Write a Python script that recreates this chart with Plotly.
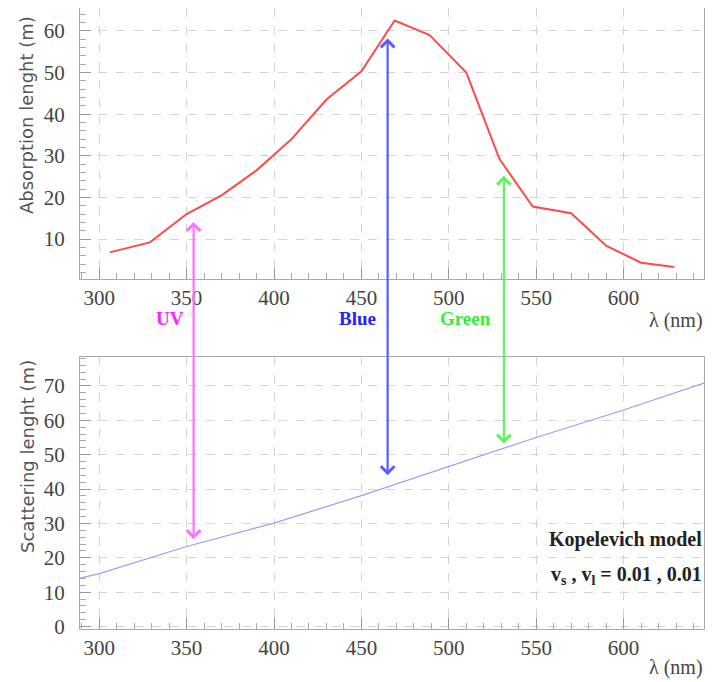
import plotly.graph_objects as go

# The page body adds an 8px margin, so the figure is sized to fill the rest of the window.
OFF = 8
W, H = 720 - OFF, 682 - OFF

# ---- data ----
abs_lambda = [306, 329, 350, 370, 390, 410, 430, 450, 469, 489, 510, 529, 548, 570, 590, 610, 629]
abs_length = [6.8, 9.2, 16.0, 20.5, 26.5, 34.0, 43.5, 50.3, 62.5, 59.0, 50.0, 29.2, 17.8, 16.2, 8.4, 4.3, 3.3]

sca_lambda = [289, 300, 350, 400, 450, 500, 550, 600, 646]
sca_length = [14.1, 15.4, 23.3, 30.1, 38.1, 46.5, 55.0, 63.0, 70.8]

arrow_names = ["UV", "Blue", "Green"]
arrow_lambda = [354, 465, 531.5]
arrow_top_abs = [14.1, 58.2, 25.2]      # arrow tip in absorption panel (m)
arrow_bot_sca = [25.0, 43.6, 52.8]      # arrow tip in scattering panel (m)
arrow_colors = ["#ff70ff", "#5a5aff", "#5cf55c"]
label_colors = ["#ff22ff", "#2222ff", "#33ee33"]
label_lambda = [340.5, 448, 509.5]

x_ticks = [300, 350, 400, 450, 500, 550, 600]
y1_ticks = [10, 20, 30, 40, 50, 60]
y2_ticks = [0, 10, 20, 30, 40, 50, 60, 70]

# ---- layout geometry (screen pixels -> paper) ----
def px(x):
    return (x - OFF) / W


def py(y):
    return 1 - (y - OFF) / H


xrng = [289, 646]
y1rng = [0.4, 65.5]
y2rng = [-0.7, 78.5]
xdom = [px(80), px(704)]
y1dom = [py(279), py(8)]
y2dom = [py(629), py(356.7)]


def to_paper(v, rng, dom):
    return dom[0] + (v - rng[0]) / (rng[1] - rng[0]) * (dom[1] - dom[0])


fig = go.Figure()
fig.add_trace(go.Scatter(x=abs_lambda, y=abs_length, mode="lines",
                         line=dict(color="#ff4a4a", width=2),
                         xaxis="x", yaxis="y", showlegend=False))
fig.add_trace(go.Scatter(x=sca_lambda, y=sca_length, mode="lines",
                         line=dict(color="#9c9cff", width=1.2),
                         xaxis="x2", yaxis="y2", showlegend=False))

tickfont = dict(family="Liberation Serif", size=21, color="#444")
common_x = dict(range=xrng, domain=xdom, tickvals=x_ticks, ticks="inside", ticklen=11,
                tickcolor="#999", showline=True, linecolor="#aaa", linewidth=1, mirror=True,
                showgrid=True, gridcolor="#d4d4d4", griddash="dash", gridwidth=1,
                zeroline=False, tickfont=tickfont, automargin=False,
                minor=dict(dtick=10, ticks="inside", ticklen=6, tickcolor="#aaa", showgrid=False))
common_y = dict(ticks="inside", ticklen=11, tickcolor="#999", showline=True, linecolor="#aaa",
                linewidth=1, mirror=True, showgrid=True, gridcolor="#d4d4d4", griddash="dash",
                gridwidth=1, zeroline=False, tickfont=tickfont, automargin=False,
                ticklabelstandoff=10,
                minor=dict(dtick=2, ticks="inside", ticklen=6, tickcolor="#aaa", showgrid=False))

fig.update_layout(
    width=W, height=H, margin=dict(l=0, r=0, t=0, b=0),
    paper_bgcolor="white", plot_bgcolor="white",
    xaxis=dict(**common_x, anchor="y"),
    yaxis=dict(**common_y, range=y1rng, domain=y1dom, tickvals=y1_ticks, anchor="x"),
    xaxis2=dict(**common_x, anchor="y2"),
    yaxis2=dict(**common_y, range=y2rng, domain=y2dom, tickvals=y2_ticks, anchor="x2"),
)

ann = []
# arrows spanning both panels
for lam, yt, yb, c in zip(arrow_lambda, arrow_top_abs, arrow_bot_sca, arrow_colors):
    pt = to_paper(yt, y1rng, y1dom)
    pb = to_paper(yb, y2rng, y2dom)
    ann.append(dict(x=lam, y=pt, xref="x", yref="paper", ax=0, ay=(pt - pb) * H,
                    axref="pixel", ayref="pixel", text="", showarrow=True,
                    arrowside="end+start", arrowhead=4, startarrowhead=4,
                    arrowsize=1.2, startarrowsize=1.2, arrowwidth=2.2, arrowcolor=c,
                    standoff=0, startstandoff=0))
# colour labels
for name, lam, c in zip(arrow_names, label_lambda, label_colors):
    ann.append(dict(x=lam, y=py(318), xref="x", yref="paper", text="<b>%s</b>" % name,
                    showarrow=False, font=dict(family="Liberation Serif", size=19, color=c),
                    xanchor="center", yanchor="middle"))
# axis titles
ann.append(dict(x=px(27), y=py(115), xref="paper", yref="paper", text="Absorption lenght (m)",
                textangle=-90, showarrow=False, xanchor="center", yanchor="middle",
                font=dict(family="DejaVu Sans", size=18, color="#555")))
ann.append(dict(x=px(27), y=py(457), xref="paper", yref="paper", text="Scattering lenght (m)",
                textangle=-90, showarrow=False, xanchor="center", yanchor="middle",
                font=dict(family="DejaVu Sans", size=18, color="#555")))
for yy in [320, 667]:
    ann.append(dict(x=px(705), y=py(yy), xref="paper", yref="paper", text="λ (nm)",
                    xanchor="right", yanchor="middle", showarrow=False,
                    font=dict(family="Liberation Serif", size=20, color="#444")))
# model text
ann.append(dict(x=px(704), y=py(539), xref="paper", yref="paper", text="<b>Kopelevich model</b>",
                xanchor="right", yanchor="middle", showarrow=False,
                font=dict(family="Liberation Serif", size=20, color="#222")))
ann.append(dict(x=px(704), y=py(575), xref="paper", yref="paper",
                text="<b>v<sub>s</sub> , v<sub>l</sub> = 0.01 , 0.01</b>",
                xanchor="right", yanchor="middle", showarrow=False,
                font=dict(family="Liberation Serif", size=20, color="#222")))
fig.update_layout(annotations=ann)

fig.write_html("out.html")
